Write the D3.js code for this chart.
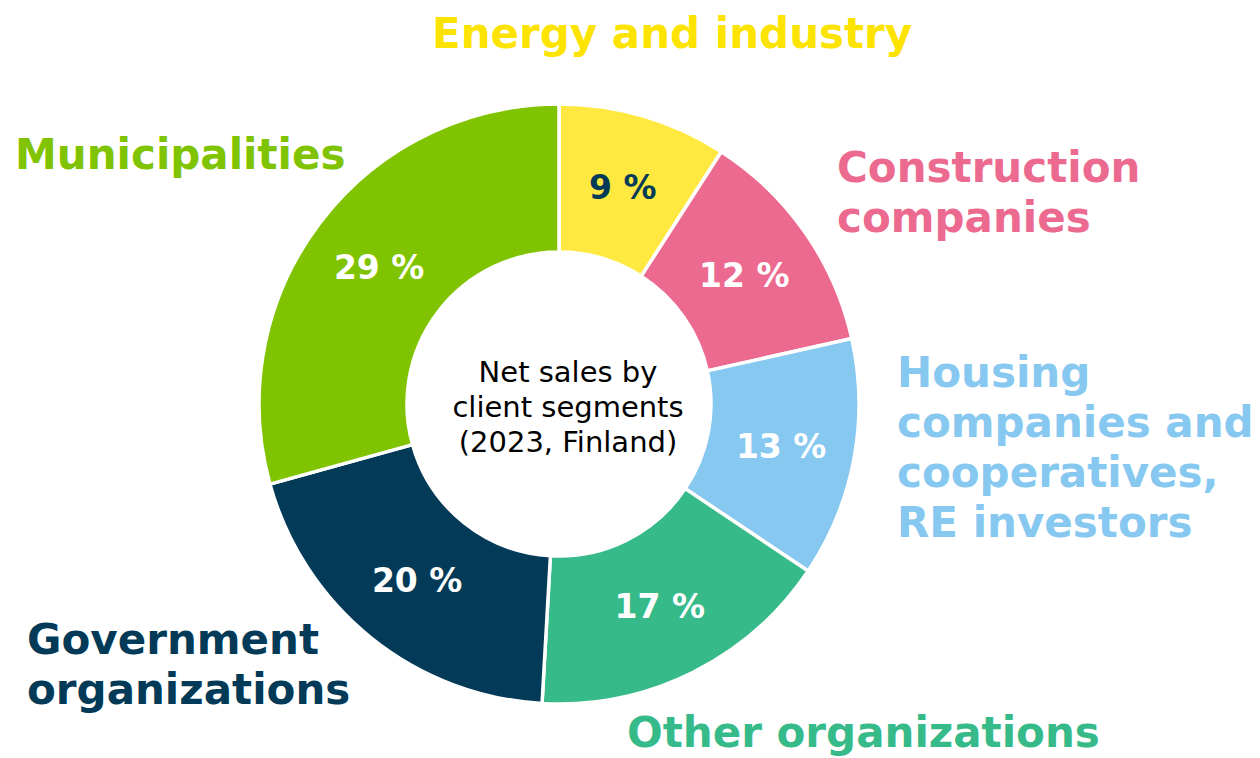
<!DOCTYPE html>
<html>
<head>
<meta charset="utf-8">
<script src="https://cdn.jsdelivr.net/npm/d3@7/dist/d3.min.js"></script>
<style>
  body { margin: 0; background: #fff; }
  .canvas svg { display: block; }
</style>
</head>
<body>
<div class="canvas"></div>
<script>
// client segments, clockwise from 12 o'clock
const segments = ['Energy and industry', 'Construction companies', 'Housing companies and cooperatives, RE investors',
    'Other organizations', 'Government organizations', 'Municipalities'];
// shares (labels show them rounded)
const shares = [9.1, 12.4, 12.9, 16.5, 19.8, 29.3];
const labelLines = [
    ['Energy and industry'],
    ['Construction', 'companies'],
    ['Housing', 'companies and', 'cooperatives,', 'RE investors'],
    ['Other organizations'],
    ['Government', 'organizations'],
    ['Municipalities']
];
const centerLines = ['Net sales by', 'client segments', '(2023, Finland)'];

const dims = { width: 1260, height: 758, outer: 300, inner: 152 };
const cent = { x: 559, y: 404 };

// slice fill, label text colour, value text colour
const sliceColours = ['#ffe940', '#ec6a8f', '#86c8f0', '#36ba8a', '#023a57', '#80c300'];
const textColours = ['#fce300', '#ec6a8f', '#86c8f0', '#36ba8a', '#023a57', '#80c300'];
const valueColours = ['#023a57', '#fff', '#fff', '#fff', '#fff', '#fff'];

// where each outer label block starts (left edge, first baseline)
const labelPos = [
    { x: 432, y: 48 },
    { x: 837, y: 182 },
    { x: 897, y: 387 },
    { x: 627, y: 747 },
    { x: 27, y: 654 },
    { x: 15, y: 169 }
];

const svg = d3.select('.canvas')
    .append('svg')
    .attr('width', dims.width)
    .attr('height', dims.height);

const graph = svg.append('g')
    .attr('transform', `translate(${cent.x}, ${cent.y})`);

const data = segments.map((name, i) => ({ name, share: shares[i], i }));

const pie = d3.pie()
    .sort(null)
    .value(d => d.share);

const arcPath = d3.arc()
    .outerRadius(dims.outer)
    .innerRadius(dims.inner);

const colour = d3.scaleOrdinal().domain(segments).range(sliceColours);

graph.selectAll('path')
    .data(pie(data))
    .enter()
    .append('path')
    .attr('d', arcPath)
    .attr('fill', d => colour(d.data.name))
    .attr('stroke', '#fff')
    .attr('stroke-width', 3.5)
    .attr('stroke-linejoin', 'miter');

// percentage inside each slice
graph.selectAll('text.value')
    .data(pie(data))
    .enter()
    .append('text')
    .attr('class', 'value')
    .attr('transform', d => `translate(${arcPath.centroid(d)})`)
    .attr('dy', '0.36em')
    .attr('text-anchor', 'middle')
    .attr('font-family', 'DejaVu Sans, Verdana, sans-serif')
    .attr('font-weight', 'bold')
    .attr('font-size', 33)
    .attr('fill', d => valueColours[d.data.i])
    .text(d => `${Math.round(d.data.share)} %`);

// centre caption
svg.append('text')
    .attr('x', 568)
    .attr('y', 382)
    .attr('text-anchor', 'middle')
    .attr('font-family', 'DejaVu Sans, Verdana, sans-serif')
    .attr('font-size', 29)
    .attr('fill', '#000')
    .selectAll('tspan')
    .data(centerLines)
    .enter()
    .append('tspan')
    .attr('x', 568)
    .attr('dy', (d, i) => i === 0 ? 0 : 35)
    .text(d => d);

// segment names round the ring
const labels = svg.selectAll('text.label')
    .data(data)
    .enter()
    .append('text')
    .attr('class', 'label')
    .attr('x', d => labelPos[d.i].x)
    .attr('y', d => labelPos[d.i].y)
    .attr('font-family', 'DejaVu Sans, Verdana, sans-serif')
    .attr('font-weight', 'bold')
    .attr('font-size', 42)
    .attr('fill', d => textColours[d.i]);

labels.selectAll('tspan')
    .data(d => labelLines[d.i].map(line => ({ line, x: labelPos[d.i].x })))
    .enter()
    .append('tspan')
    .attr('x', d => d.x)
    .attr('dy', (d, i) => i === 0 ? 0 : 50)
    .text(d => d.line);
</script>
</body>
</html>
